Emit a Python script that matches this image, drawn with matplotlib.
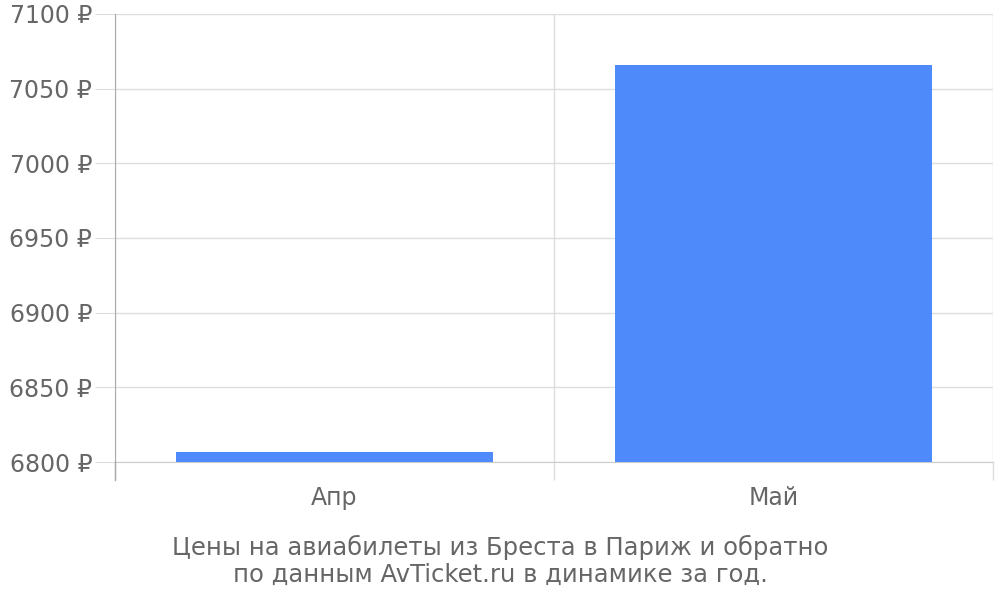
import matplotlib
matplotlib.use("Agg")
import matplotlib.pyplot as plt
import numpy as np

# prices by month (rub)
months = ["Апр", "Май"]
prices = [6807, 7066]
y_ticks = [6800, 6850, 6900, 6950, 7000, 7050, 7100]
title_lines = ["Цены на авиабилеты из Бреста в Париж и обратно",
               "по данным AvTicket.ru в динамике за год."]

plt.rcParams['font.family'] = ['DejaVu Sans']
text_col = "#666666"
grid_col = "#dddddd"
fs = 17

fig = plt.figure(figsize=(10, 6), dpi=100)
ax = fig.add_axes([0.115, 0.23, 0.878, 0.7467])

x = np.arange(len(months))
ax.bar(x, prices, width=0.72, color="#4e8af9", zorder=3)

ax.set_xlim(-0.5, len(months) - 0.5)
ax.set_ylim(y_ticks[0], y_ticks[-1])
ax.set_yticks(y_ticks)
ax.set_yticklabels([f"{v} ₽" for v in y_ticks])
ax.set_xticks(x)
ax.set_xticklabels(months)

# category separators as minor ticks
ax.set_xticks(np.arange(-0.5, len(months)), minor=True)
ax.grid(axis='y', which='major', color=grid_col, linewidth=1, zorder=0)
ax.grid(axis='x', which='minor', color=grid_col, linewidth=1, zorder=0)

ax.tick_params(axis='y', length=14.4, color=grid_col, labelcolor=text_col,
               labelsize=fs, pad=2)
ax.tick_params(axis='x', which='major', length=0, labelcolor=text_col,
               labelsize=fs, pad=17.5)
ax.tick_params(axis='x', which='minor', length=13, color=grid_col, width=1)

for s in ['top', 'right']:
    ax.spines[s].set_visible(False)
ax.spines['bottom'].set_color("#cccccc")
ax.spines['left'].set_color("#aaaaaa")
# extend left axis line below the plot area
ax.plot([-0.5, -0.5], [y_ticks[0], y_ticks[0] - 12], color="#aaaaaa",
        linewidth=1, clip_on=False, zorder=4)

fig.text(0.5, 0.065, "\n".join(title_lines), ha='center', va='center',
         color=text_col, fontsize=17.5, linespacing=1.17)

fig.savefig("out.png", dpi=100)
